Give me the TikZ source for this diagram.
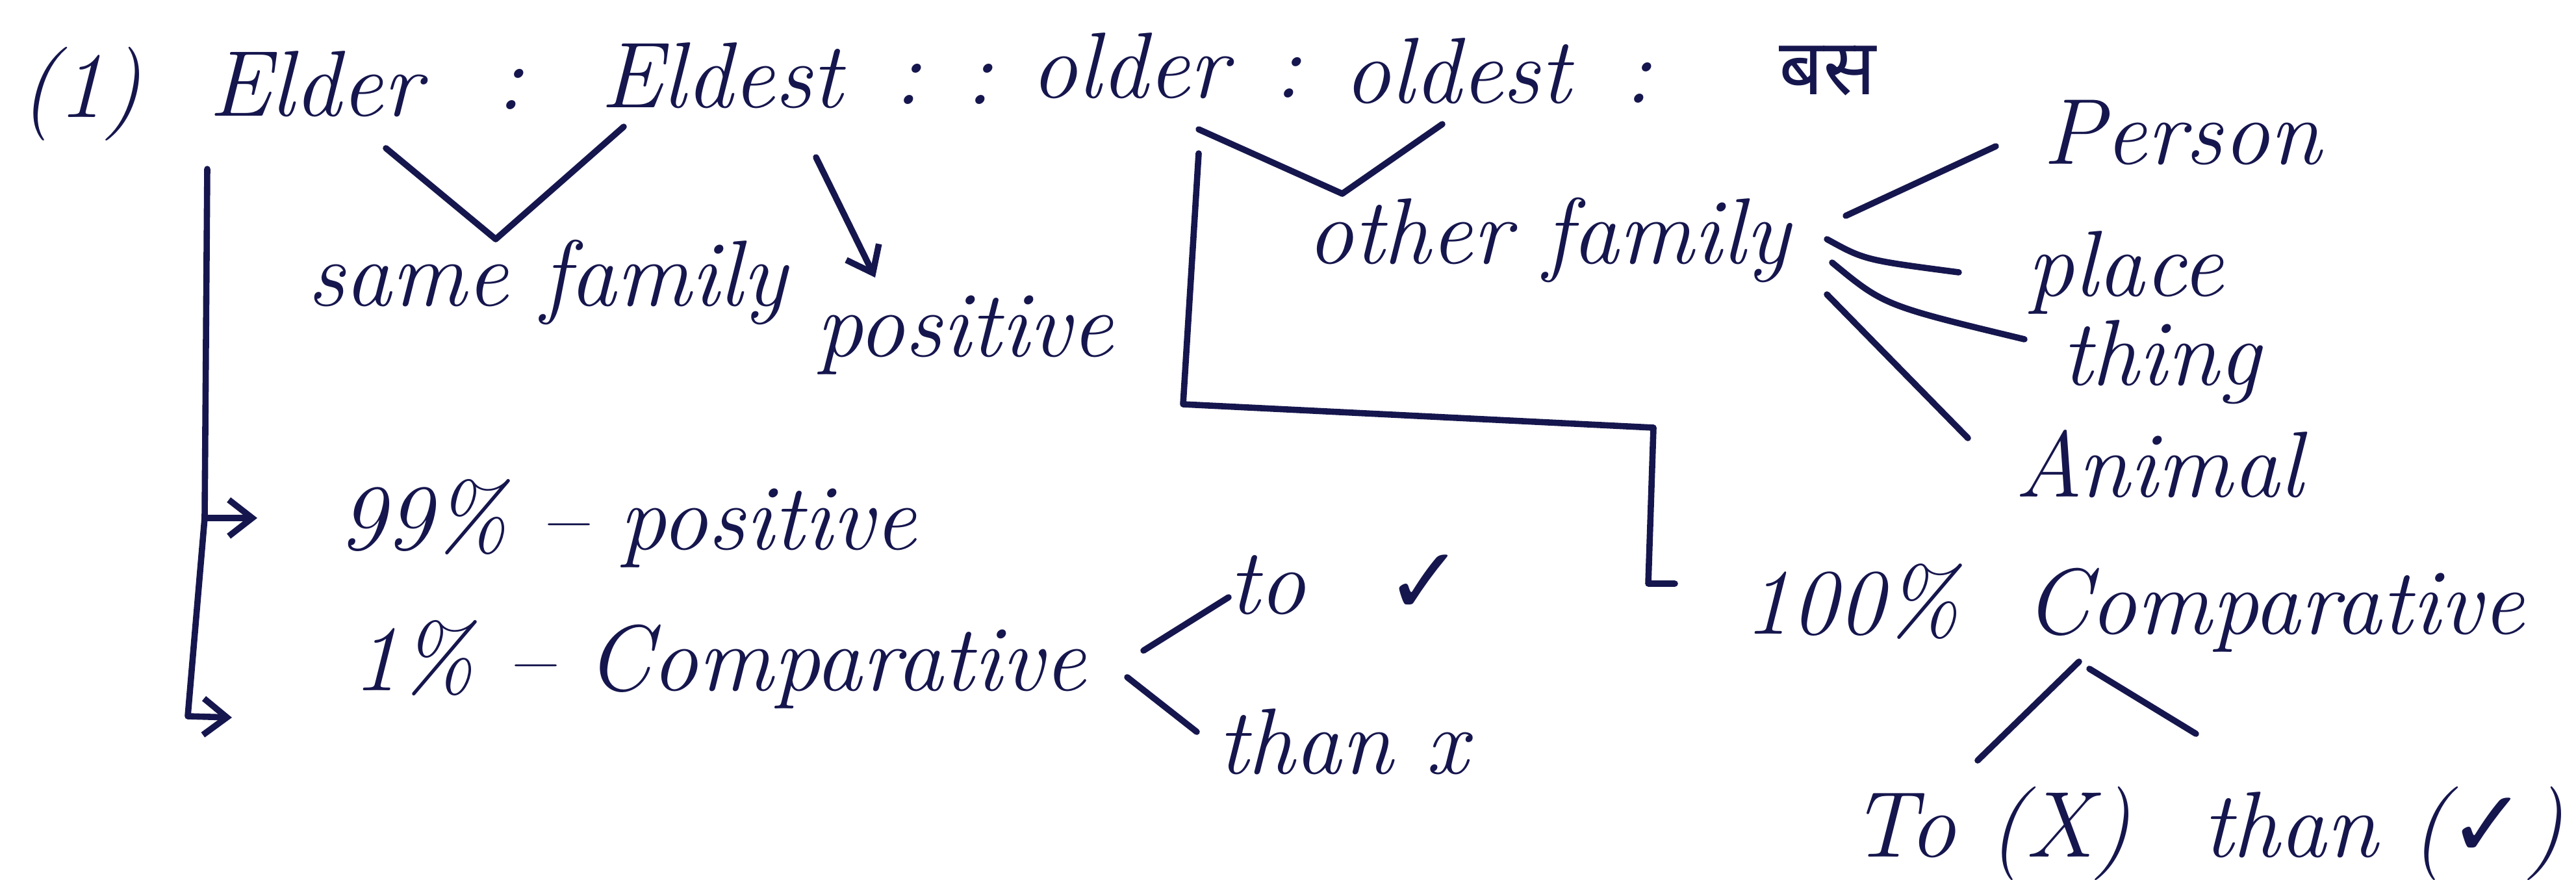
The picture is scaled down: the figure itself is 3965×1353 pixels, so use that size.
\documentclass[tikz,border=0pt]{standalone}
\usepackage{fontspec}
\newfontfamily\devafont[Script=Devanagari]{Noto Sans}
\newfontfamily\symfont{DejaVu Sans}
\usetikzlibrary{arrows.meta}
\definecolor{ink}{RGB}{22,22,78}
\begin{document}
\begin{tikzpicture}[x=0.25pt,y=-0.25pt,
  hw/.style={anchor=base west, inner sep=0pt, outer sep=0pt, text=ink, font=\fontsize{36}{40}\selectfont\itshape},
  ln/.style={draw=ink, line width=2.4pt, line cap=round, line join=round},
  arr/.style={ln, -{Straight Barb[length=9pt,width=14pt,line width=2.4pt]}}]
\useasboundingbox[fill=white] (0,0) rectangle (3965,1353);

% top line
\node[hw] (num) at (31,180) {(1)};
\node[hw] (elder) at (321,178) {Elder};
\node[hw] (colA) at (763,168) {:};
\node[hw] (eldest) at (924,165) {Eldest};
\node[hw] (colB) at (1375,160) {: :};
\node[hw] (older) at (1586,150) {older};
\node[hw] (colC) at (1960,150) {:};
\node[hw] (oldest) at (2068,158) {oldest};
\node[hw] (colD) at (2499,158) {:};
\node[hw, font=\devafont\fontsize{30}{34}\selectfont] (bas) at (2738,145) {बस};

% second level
\node[hw] (same) at (473,470) {same family};
\node[hw] (pos) at (1256,548) {positive};
\node[hw] (other) at (2011,405) {other family};
\node[hw] (person) at (3144,252) {Person};
\node[hw] (place) at (3120,455) {place};
\node[hw] (thing) at (3173,592) {thing};
\node[hw] (animal) at (3101,764) {Animal};

% lower part
\node[hw] (p99) at (521,845) {99\% -- positive};
\node[hw] (p1) at (542,1062) {1\% -- Comparative};
\node[hw] (to) at (1891,944) {to \hspace{18pt}{\upshape\symfont ✓}};
\node[hw] (thanx) at (1874,1190) {than x};
\node[hw] (c100) at (2684,975) {100\% \ Comparative};
\node[hw] (toX) at (2848,1318) {To (X)};
\node[hw] (thanv) at (3390,1318) {than ({\upshape\symfont ✓})};

% coordinates of connector ends
\coordinate (v1a) at (594,228);
\coordinate (v1b) at (763,368);
\coordinate (v1c) at (960,195);
\coordinate (ea) at (1256,242);
\coordinate (eb) at (1347,427);
\coordinate (la) at (319,260);
\coordinate (lb) at (315,797);
\coordinate (lc) at (289,1102);
\coordinate (ld) at (357,1104);
\coordinate (le) at (396,797);
\coordinate (v2a) at (1845,199);
\coordinate (v2b) at (2066,298);
\coordinate (v2c) at (2220,191);
\coordinate (ra) at (1845,236);
\coordinate (rb) at (1821,622);
\coordinate (rc) at (2545,658);
\coordinate (rd) at (2537,898);
\coordinate (re) at (2578,898);
\coordinate (fp1) at (2841,332);
\coordinate (fp2) at (3072,225);
\coordinate (fl1) at (2812,368);
\coordinate (fl2) at (3015,419);
\coordinate (ft1) at (2820,404);
\coordinate (ft2) at (3116,522);
\coordinate (fa1) at (2812,453);
\coordinate (fa2) at (3029,674);
\coordinate (ct1) at (1760,1001);
\coordinate (ct2) at (1891,919);
\coordinate (ch1) at (1735,1042);
\coordinate (ch2) at (1842,1126);
\coordinate (ka) at (3200,1018);
\coordinate (kb) at (3044,1170);
\coordinate (kc) at (3216,1029);
\coordinate (kd) at (3380,1129);

% connectors
\draw[ln] (v1a) -- (v1b) -- (v1c);
\draw[arr] (ea) -- (eb);
\draw[arr] (la) -- (lb) -- (lc) -- (ld);
\draw[arr] (lb) -- (le);
\draw[ln] (v2a) -- (v2b) -- (v2c);
\draw[ln] (ra) -- (rb) -- (rc) -- (rd) -- (re);
\draw[ln] (fp1) -- (fp2);
\draw[ln] (fl1) .. controls (2870,400) .. (fl2);
\draw[ln] (ft1) .. controls (2900,470) .. (ft2);
\draw[ln] (fa1) -- (fa2);
\draw[ln] (ct1) -- (ct2);
\draw[ln] (ch1) -- (ch2);
\draw[ln] (ka) -- (kb);
\draw[ln] (kc) -- (kd);
\end{tikzpicture}
\end{document}
